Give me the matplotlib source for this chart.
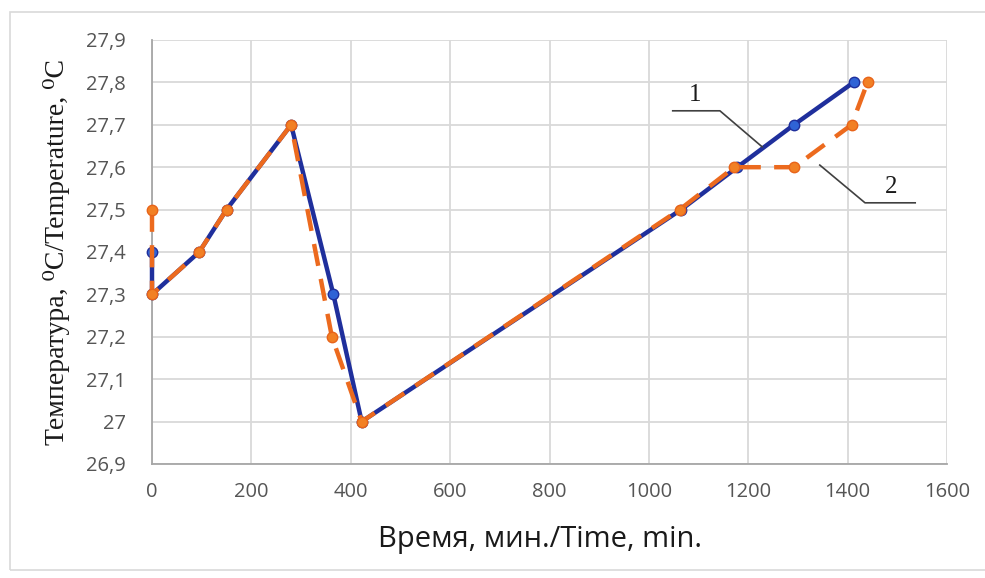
import matplotlib
matplotlib.use("Agg")
import matplotlib.pyplot as plt
from matplotlib.patches import Rectangle

# Measured temperature curves
time_1 = [0, 0, 95, 150, 280, 365, 422, 1065, 1178, 1292, 1412]
temp_1 = [27.4, 27.3, 27.4, 27.5, 27.7, 27.3, 27.0, 27.5, 27.6, 27.7, 27.8]

time_2 = [0, 0, 95, 150, 280, 362, 422, 1062, 1172, 1292, 1408, 1440]
temp_2 = [27.5, 27.3, 27.4, 27.5, 27.7, 27.2, 27.0, 27.5, 27.6, 27.6, 27.7, 27.8]

x_ticks = [0, 200, 400, 600, 800, 1000, 1200, 1400, 1600]
y_ticks = [26.9, 27.0, 27.1, 27.2, 27.3, 27.4, 27.5, 27.6, 27.7, 27.8, 27.9]
y_tick_labels = ["26,9", "27", "27,1", "27,2", "27,3", "27,4", "27,5",
                 "27,6", "27,7", "27,8", "27,9"]

fig = plt.figure(figsize=(9.85, 5.78), dpi=100)
fig.patch.set_facecolor("white")
fig.patches.append(Rectangle((10 / 985, 8 / 578), 1.0, 1 - 20 / 578,
                             transform=fig.transFigure, fill=False,
                             edgecolor="#d9d9d9", linewidth=1.2))

ax = fig.add_axes([152 / 985, 1 - 464 / 578, 795 / 985, 424 / 578])
ax.set_xlim(0, 1600)
ax.set_ylim(26.9, 27.9)
ax.set_xticks(x_ticks)
ax.set_yticks(y_ticks)
ax.set_yticklabels(y_tick_labels)
ax.grid(True, color="#d9d9d9", linewidth=1.3)
ax.set_axisbelow(True)
for side in ["top", "right"]:
    ax.spines[side].set_visible(False)
for side in ["left", "bottom"]:
    ax.spines[side].set_color("#a6a6a6")
    ax.spines[side].set_linewidth(1.3)
ax.tick_params(length=0, labelsize=14.5, labelcolor="#555555")
ax.tick_params(axis="x", pad=13)
ax.tick_params(axis="y", pad=19)
for lab in ax.get_xticklabels() + ax.get_yticklabels():
    lab.set_family("Open Sans")

ax.plot(time_1, temp_1, color="#1f2f9c", linewidth=3.2, marker="o",
        markersize=7.5, markerfacecolor="#2f63d6", markeredgecolor="#1f2f9c",
        zorder=3, clip_on=False)
ax.plot(time_2, temp_2, color="#ec6a1e", linewidth=3.2, linestyle=(0, (5, 3)),
        marker="o", markersize=7.5, markerfacecolor="#f28024",
        markeredgecolor="#e8641a", zorder=4, clip_on=False)

# Curve labels with leader lines
ax.plot([1048, 1143, 1228], [27.733, 27.733, 27.648], color="#404040",
        linewidth=1.2, zorder=5)
ax.text(1093, 27.745, "1", family="Liberation Serif", fontsize=18,
        ha="center", va="bottom", color="#1a1a1a")
ax.plot([1344, 1435, 1536], [27.605, 27.516, 27.516], color="#404040",
        linewidth=1.2, zorder=5)
ax.text(1487, 27.528, "2", family="Liberation Serif", fontsize=18,
        ha="center", va="bottom", color="#1a1a1a")

fig.text(540 / 985, 1 - 540 / 578, "Время, мин./Time, min.",
         family="Open Sans", fontsize=21, color="#1a1a1a",
         ha="center", va="center")
fig.text(57 / 985, 1 - 252 / 578,
         "Температура, \u2070C/Temperature, \u2070C",
         family=["Liberation Serif", "DejaVu Serif"], fontsize=20,
         rotation=90, ha="center", va="center", color="#1a1a1a")

fig.savefig("out.png", dpi=100)
